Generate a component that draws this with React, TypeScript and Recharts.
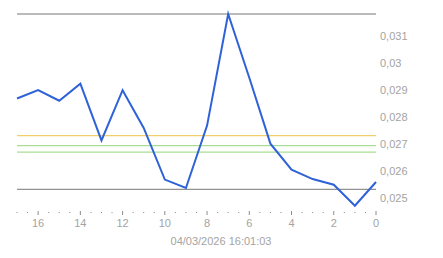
import { LineChart, Line, XAxis, YAxis, ReferenceLine } from 'recharts';

// x positions, oldest (17) on the left, newest (0) on the right
const steps = [17, 16, 15, 14, 13, 12, 11, 10, 9, 8, 7, 6, 5, 4, 3, 2, 1, 0];
const values = [
  0.02867, 0.02898, 0.02859, 0.02922, 0.02712, 0.02898, 0.02758, 0.02567, 0.02536,
  0.02767, 0.0318, 0.02944, 0.027, 0.02604, 0.02569, 0.02548, 0.0247, 0.02558,
];
const xTicks = Array.from({ length: 35 }, (_, i) => i * 0.5);
const yTicks = [0.025, 0.026, 0.027, 0.028, 0.029, 0.03, 0.031];
const maxLine = 0.0318;
const minLine = 0.02531;
const yellowLine = 0.0273;
const greenHigh = 0.02693;
const greenLow = 0.02669;
const stamp = '04/03/2026 16:01:03';

const data = steps.map((s, i) => ({ step: s, value: values[i] }));

const TEXT = '#a3a3a3';
const FONT = '"Liberation Sans", Arial, sans-serif';

function XTick({ x, y, payload }: any) {
  const v = payload.value as number;
  const major = Number.isInteger(v) && v % 2 === 0;
  return (
    <g>
      <line x1={x} x2={x} y1={major ? y - 1 : y} y2={major ? y + 3 : y + 1} stroke="#8c8c8c" strokeWidth={1} />
      {major && (
        <text x={x} y={y + 15} textAnchor="middle" fill={TEXT} fontSize={11} fontFamily={FONT}>
          {v}
        </text>
      )}
    </g>
  );
}

function YTick({ x, y, payload }: any) {
  return (
    <text x={x} y={y + 4} textAnchor="start" fill={TEXT} fontSize={11} fontFamily={FONT}>
      {String(payload.value).replace('.', ',')}
    </text>
  );
}

export default function App() {
  return (
    <div style={{ position: 'absolute', left: 0, top: 0, width: 443, height: 258, background: '#fff' }}>
      <LineChart width={443} height={258} data={data} margin={{ top: 14, right: 0, left: 17, bottom: 0 }}>
        <XAxis
          dataKey="step"
          type="number"
          domain={[0, 17]}
          reversed
          ticks={xTicks}
          interval={0}
          axisLine={false}
          tickLine={false}
          tickSize={0}
          tickMargin={0}
          height={46}
          tick={<XTick />}
          label={{
            content: () => (
              <text x={221} y={245} textAnchor="middle" fill={TEXT} fontSize={11} fontFamily={FONT}>
                {stamp}
              </text>
            ),
          }}
        />
        <YAxis
          orientation="right"
          type="number"
          domain={[0.02447, maxLine]}
          ticks={yTicks}
          interval={0}
          axisLine={false}
          tickLine={false}
          tickSize={0}
          tickMargin={4}
          width={67}
          tick={<YTick />}
        />
        <ReferenceLine y={maxLine} stroke="#777777" strokeWidth={1} />
        <ReferenceLine y={yellowLine} stroke="#f2cf6a" strokeWidth={1.2} />
        <ReferenceLine y={greenHigh} stroke="#a8de94" strokeWidth={1.2} />
        <ReferenceLine y={greenLow} stroke="#a8de94" strokeWidth={1.2} />
        <ReferenceLine y={minLine} stroke="#777777" strokeWidth={1} />
        <Line
          dataKey="value"
          type="linear"
          stroke="#2f62d8"
          strokeWidth={2}
          dot={false}
          isAnimationActive={false}
        />
      </LineChart>
    </div>
  );
}
